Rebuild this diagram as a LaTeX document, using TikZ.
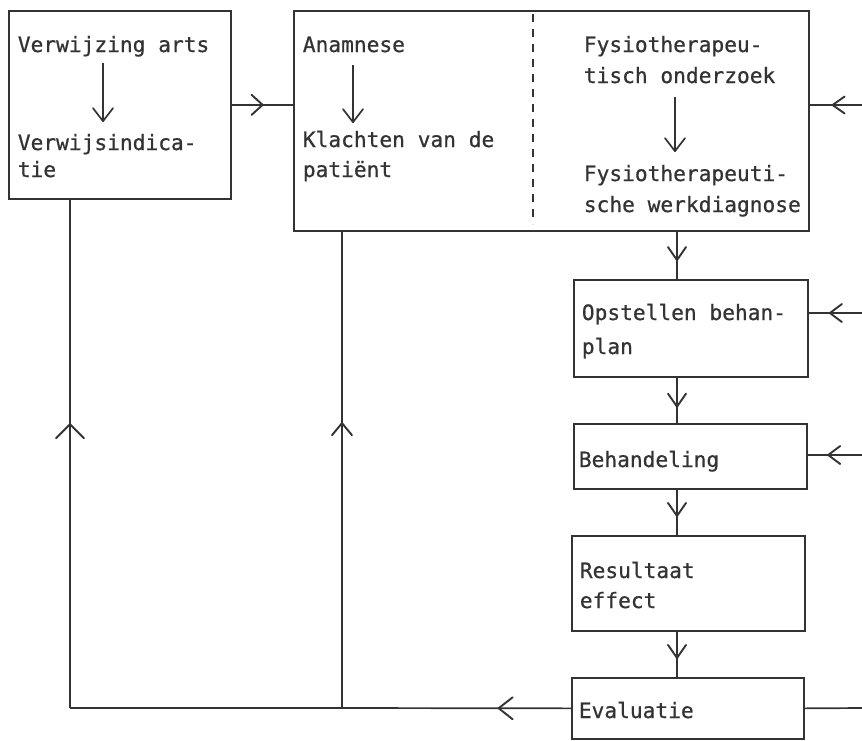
\documentclass[tikz,border=0pt]{standalone}
\usepackage{fontspec}
\newfontfamily\lblfont[BoldFont={DejaVu Sans Mono},BoldFeatures={FakeBold=0.7}]{DejaVu Sans Mono}
\usetikzlibrary{arrows.meta,decorations.markings}
\definecolor{ink}{HTML}{333333}
\begin{document}
\begin{tikzpicture}[x=1pt,y=-1pt,line width=1.7pt,draw=ink,
  box/.style={draw=ink,rectangle,anchor=north west,inner sep=0pt},
  lbl/.style={anchor=base west,inner sep=0pt,text=ink,font=\lblfont\bfseries\fontsize{21.2}{26}\selectfont},
  midarrow/.style n args={3}{postaction={decorate},decoration={markings,
    mark=at position #1 with {\arrow{Straight Barb[length=#2pt,width=#3pt,line width=1.9pt,round]}}}},
  inner/.style={line width=1.3pt,-{Straight Barb[length=13pt,width=20pt,line width=1.7pt,round]}},
  dashsep/.style={line width=1.8pt,dash pattern=on 8pt off 7pt}]
\useasboundingbox (0,0) rectangle (862,740);
\fill[white] (0,0) rectangle (862,740);
% boxes
\node[box,minimum width=222pt,minimum height=188pt] (b1) at (8,10) {};
\node[box,minimum width=515pt,minimum height=220pt] (b2) at (293,10) {};
\node[box,minimum width=234pt,minimum height=97pt] (b3) at (573,279) {};
\node[box,minimum width=233pt,minimum height=65pt] (b4) at (573,423) {};
\node[box,minimum width=233pt,minimum height=95pt] (b5) at (571,535) {};
\node[box,minimum width=232pt,minimum height=61pt] (b6) at (571,677) {};
% texts
\node[lbl] (t1a) at (17,52) {Verwijzing arts};
\node[lbl] (t1b) at (17,150) {Verwijsindica-};
\node[lbl] (t1c) at (17,177) {tie};
\node[lbl] (t2a) at (302,52) {Anamnese};
\node[lbl] (t2b) at (302,147) {Klachten van de};
\node[lbl] (t2c) at (302,177) {patiënt};
\node[lbl] (t3a) at (583,52) {Fysiotherapeu-};
\node[lbl] (t3b) at (583,83) {tisch onderzoek};
\node[lbl] (t3c) at (583,181) {Fysiotherapeuti-};
\node[lbl] (t3d) at (583,212) {sche werkdiagnose};
\node[lbl] (t4a) at (581,320) {Opstellen behan-};
\node[lbl] (t4b) at (581,354) {plan};
\node[lbl] (t5) at (578,467) {Behandeling};
\node[lbl] (t6a) at (579,578) {Resultaat};
\node[lbl] (t6b) at (579,608) {effect};
\node[lbl] (t7) at (578,718) {Evaluatie};
% dashed separator
\coordinate (d1) at (533,14);
\coordinate (d2) at (533,224);
\draw[dashsep] (d1) -- (d2);
% inner arrows
\coordinate (i1s) at (103,63); \coordinate (i1e) at (103,122);
\coordinate (i2s) at (353,65); \coordinate (i2e) at (353,123);
\coordinate (i3s) at (675,97); \coordinate (i3e) at (675,152);
\draw[inner] (i1s) -- (i1e);
\draw[inner] (i2s) -- (i2e);
\draw[inner] (i3s) -- (i3e);
% main flow
\coordinate (col) at (677,0);
\draw[midarrow={0.52}{11}{20}] (b1.east) -- (b1.east -| b2.west);
\draw[midarrow={0.62}{13}{18}] (b2.south -| col) -- (b3.north -| col);
\draw[midarrow={0.66}{13}{18}] (b3.south -| col) -- (b4.north -| col);
\draw[midarrow={0.6}{13}{18}] (b4.south -| col) -- (b5.north -| col);
\draw[midarrow={0.6}{13}{18}] (b5.south -| col) -- (b6.north -| col);
% inputs from the right
\coordinate (r1) at (862,105);
\coordinate (r2) at (862,313);
\coordinate (r3) at (862,455);
\coordinate (r4) at (862,708);
\draw[midarrow={0.58}{12}{17}] (r1) -- (r1 -| b2.east);
\draw[midarrow={0.62}{12}{18}] (r2) -- (r2 -| b3.east);
\draw[midarrow={0.64}{12}{18}] (r3) -- (r3 -| b4.east);
\draw (b6.east) -- (r4);
% feedback loops
\coordinate (j1) at (70,708);
\coordinate (j2) at (342,708);
\draw[midarrow={0.32}{14}{22}] (b6.west) -- (j2);
\draw (j2) -- (j1);
\draw[midarrow={0.56}{14}{28}] (j1) -- (j1 |- b1.south);
\draw[midarrow={0.6}{12}{20}] (j2) -- (j2 |- b2.south);
\end{tikzpicture}
\end{document}
